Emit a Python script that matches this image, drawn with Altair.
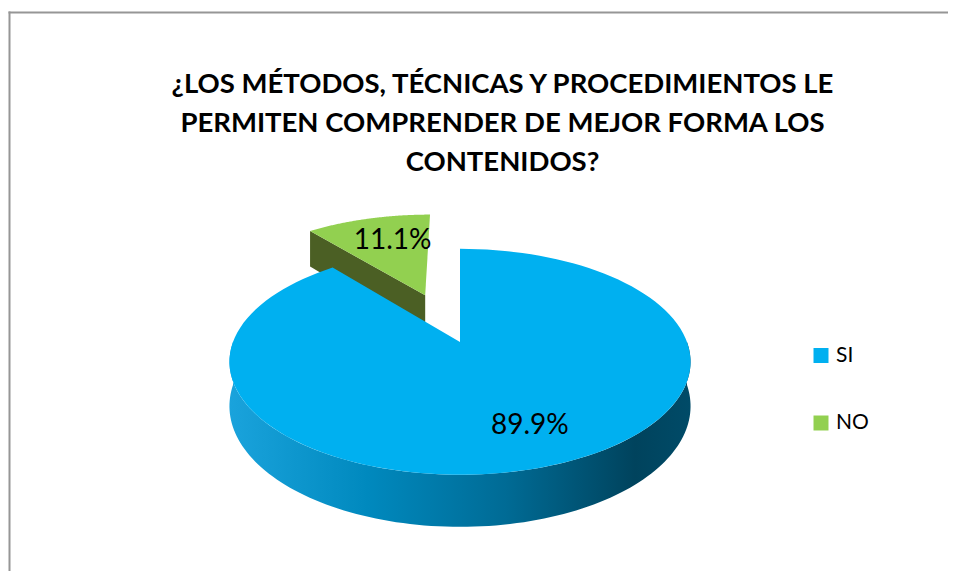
import altair as alt
import pandas as pd

# ---- data ----
categories = ["SI", "NO"]
values = [89.9, 11.1]
value_labels = ["89.9%", "11.1%"]
title_lines = [
    "¿LOS MÉTODOS, TÉCNICAS Y PROCEDIMIENTOS LE",
    "PERMITEN COMPRENDER DE MEJOR FORMA LOS",
    "CONTENIDOS?",
]

# ---- styles ----
top_colors = ["#00B0F0", "#92D050"]
face_colors = ["#0070A0", "#4B5F24"]
FONT = "Lato"

# ---- 3D pie geometry (pixels) ----
CX, CY = 452, 334
RX, RY = 227, 109.5
P = 0.175           # perspective
DEPTH = 43
EXPLODE = 0.49
N = 120
LABEL_R = 0.7

W, H = 940, 563

df = pd.DataFrame({
    "category": categories,
    "value": values,
    "label": value_labels,
    "idx": list(range(len(categories))),
})


def project(chart):
    return (
        chart.transform_calculate(s=f"1/(1+{P}*datum.v)")
        .transform_calculate(X=f"{CX}+{RX}*datum.u*datum.s")
        .transform_calculate(Y=f"{CY}-{RY}*datum.v*datum.s+datum.down*{DEPTH}*datum.s")
    )


base = (
    alt.Chart(df)
    .transform_window(cum="sum(value)", sort=[alt.SortField("idx")], frame=[None, 0])
    .transform_joinaggregate(total="sum(value)")
    .transform_calculate(a0="2*PI*(datum.cum-datum.value)/datum.total")
    .transform_calculate(a1="2*PI*datum.cum/datum.total")
    .transform_calculate(mid="(datum.a0+datum.a1)/2")
    .transform_calculate(ex=f"datum.category=='NO' ? {EXPLODE} : 0")
    .transform_calculate(ou="datum.ex*sin(datum.mid)")
    .transform_calculate(ov="datum.ex*cos(datum.mid)")
)

XE = alt.X("X:Q", scale=None, axis=None)
YE = alt.Y("Y:Q", scale=None, axis=None)

# radial cut faces
faces = project(
    base.transform_calculate(edge="[0,1]")
    .transform_flatten(["edge"])
    .transform_calculate(corner="[0,1,2,3]")
    .transform_flatten(["corner"])
    .transform_filter("datum.edge==0 ? sin(datum.a0) < -0.01 : sin(datum.a1) > 0.01")
    .transform_calculate(ea="datum.edge==0 ? datum.a0 : datum.a1")
    .transform_calculate(r="(datum.corner==1 || datum.corner==2) ? 1 : 0")
    .transform_calculate(down="datum.corner>=2 ? 1 : 0")
    .transform_calculate(u="datum.ou+datum.r*sin(datum.ea)")
    .transform_calculate(v="datum.ov+datum.r*cos(datum.ea)")
).mark_line(strokeOpacity=0, interpolate="linear").encode(
    x=XE, y=YE,
    fill=alt.Fill("category:N", scale=alt.Scale(domain=categories, range=face_colors), legend=None),
    detail="edge:N",
    order="corner:Q",
)

# front outer wall
wall_grad = alt.LinearGradient(
    gradient="linear",
    stops=[
        alt.GradientStop(color="#1aa3dc", offset=0),
        alt.GradientStop(color="#0089be", offset=0.3),
        alt.GradientStop(color="#006b95", offset=0.6),
        alt.GradientStop(color="#00435d", offset=0.88),
        alt.GradientStop(color="#004b68", offset=1),
    ],
    x1=0, x2=1, y1=0, y2=0,
)
walls = project(
    base.transform_calculate(w0="max(datum.a0, PI/2)")
    .transform_calculate(w1="min(datum.a1, 3*PI/2)")
    .transform_filter("datum.w1 > datum.w0 + 0.001")
    .transform_calculate(pts=f"sequence(0,{2 * N + 2})")
    .transform_flatten(["pts"])
    .transform_calculate(j=f"datum.pts<={N} ? datum.pts : {2 * N + 1}-datum.pts")
    .transform_calculate(down=f"datum.pts>{N} ? 1 : 0")
    .transform_calculate(t=f"datum.w0+(datum.w1-datum.w0)*datum.j/{N}")
    .transform_calculate(u="datum.ou+sin(datum.t)")
    .transform_calculate(v="datum.ov+cos(datum.t)")
).mark_line(fill=wall_grad, strokeOpacity=0).encode(
    x=XE, y=YE, detail="category:N", order="pts:Q"
)

# top faces
tops = project(
    base.transform_calculate(pts=f"sequence(0,{N + 2})")
    .transform_flatten(["pts"])
    .transform_calculate(t=f"datum.a0+(datum.a1-datum.a0)*(datum.pts-1)/{N}")
    .transform_calculate(u="datum.ou+(datum.pts==0 ? 0 : sin(datum.t))")
    .transform_calculate(v="datum.ov+(datum.pts==0 ? 0 : cos(datum.t))")
    .transform_calculate(down="0")
).mark_line(strokeOpacity=0).encode(
    x=XE, y=YE,
    fill=alt.Fill("category:N", scale=alt.Scale(domain=categories, range=top_colors), legend=None),
    order="pts:Q",
)

# value labels
labels = project(
    base.transform_calculate(u=f"datum.ou+{LABEL_R}*sin(datum.mid)")
    .transform_calculate(v=f"datum.ov+{LABEL_R}*cos(datum.mid)")
    .transform_calculate(down="0")
).mark_text(font=FONT, fontSize=28, color="#000000", align="center", baseline="middle", dx=9, dy=2).encode(
    x=XE, y=YE, text="label:N"
)

# legend
leg = alt.Chart(df).transform_calculate(ly="347.5 + datum.idx*67.5")
leg_sq = leg.mark_square(size=225, opacity=1, strokeWidth=0).encode(
    x=alt.value(813),
    y=alt.Y("ly:Q", scale=None, axis=None),
    color=alt.Color("category:N", scale=alt.Scale(domain=categories, range=top_colors), legend=None),
)
leg_tx = leg.mark_text(font=FONT, fontSize=21, color="#000000", align="left", baseline="middle").encode(
    x=alt.value(828),
    y=alt.Y("ly:Q", scale=None, axis=None),
    text="category:N",
)

one = pd.DataFrame({"k": [0]})
frame_left = alt.Chart(one).mark_rule(stroke="#969696", strokeWidth=2).encode(
    x=alt.value(1.5), y=alt.value(3.5), y2=alt.value(H + 30)
)
frame_top = alt.Chart(one).mark_rule(stroke="#969696", strokeWidth=2).encode(
    x=alt.value(0.5), x2=alt.value(W + 30), y=alt.value(4.5)
)
title = alt.Chart(one).mark_text(
    text=title_lines, font=FONT, fontSize=27.5, fontWeight="bold", lineHeight=39,
    align="center", baseline="top", color="#000000",
).encode(x=alt.value(494.5), y=alt.value(62.5))

chart = (
    alt.layer(frame_left, frame_top, title, faces, walls, tops, labels, leg_sq, leg_tx)
    .resolve_scale(fill="independent", color="independent")
    .properties(width=W, height=H, autosize=alt.AutoSizeParams(type="none"), padding=0)
    .configure_view(stroke=None)
)

chart.save("out.html", embed_options={"renderer": "svg", "actions": False})
